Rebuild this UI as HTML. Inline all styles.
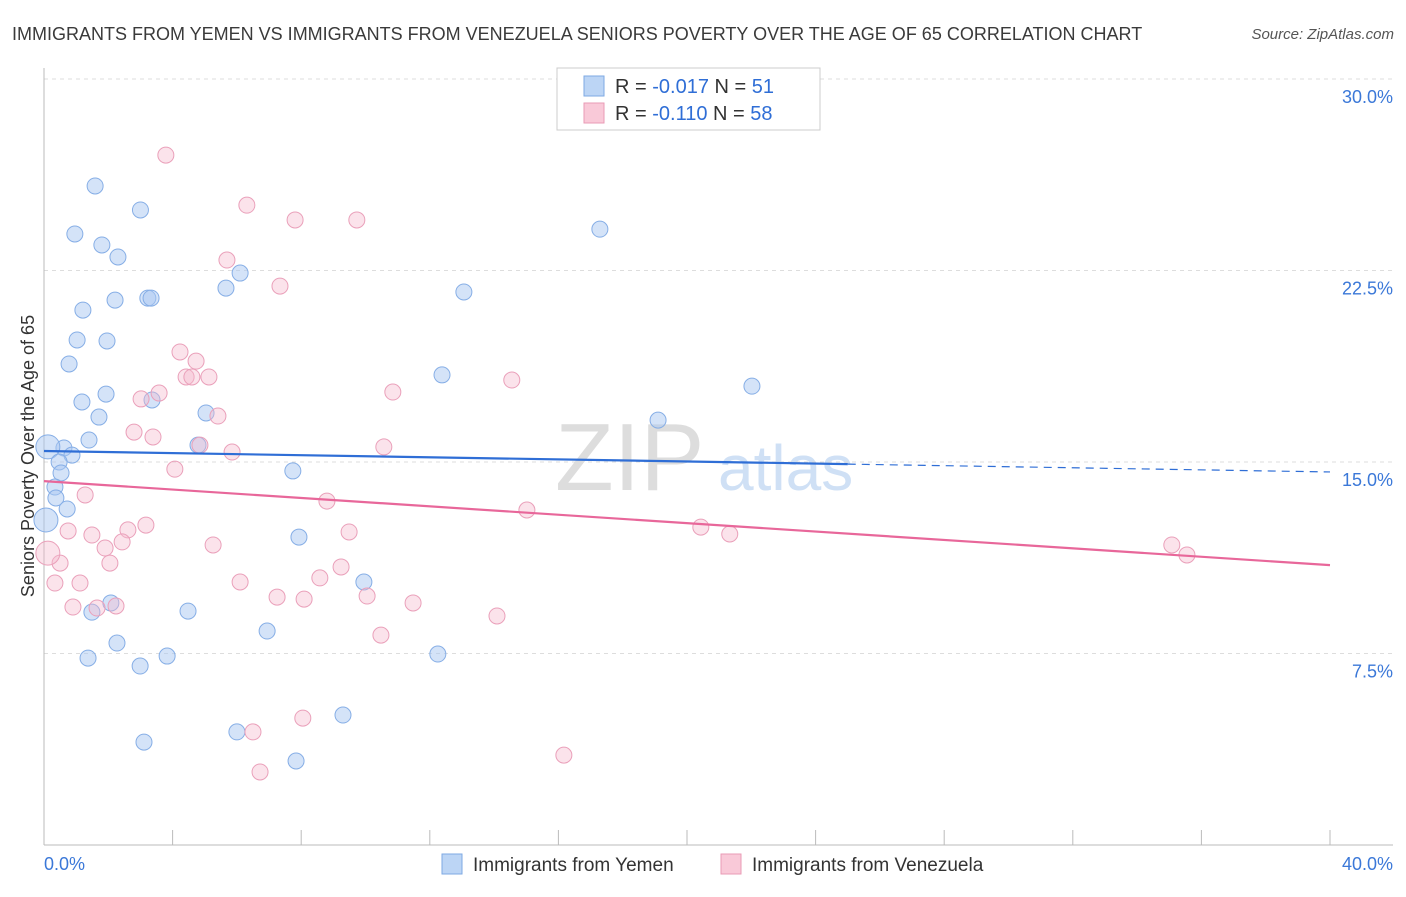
<!DOCTYPE html>
<html><head><meta charset="utf-8"><style>
body{margin:0;background:#fff;font-family:"Liberation Sans",sans-serif;}
svg text{font-family:"Liberation Sans",sans-serif;}
</style></head><body>
<svg id="chart" width="1406" height="892" xmlns="http://www.w3.org/2000/svg">
<text x="12" y="40" font-size="18" fill="#3a3a3a">IMMIGRANTS FROM YEMEN VS IMMIGRANTS FROM VENEZUELA SENIORS POVERTY OVER THE AGE OF 65 CORRELATION CHART</text>
<text x="1394" y="39" font-size="15" fill="#555" font-style="italic" text-anchor="end">Source: ZipAtlas.com</text>
<text x="555" y="490" font-size="96" fill="#ddd" font-family="Liberation Serif">ZIP</text>
<text x="718" y="490" font-size="64" fill="#cfe0f5">atlas</text>
<text transform="translate(34,456) rotate(-90)" font-size="18" fill="#333" text-anchor="middle">Seniors Poverty Over the Age of 65</text>
<g id="grid"></g><g id="axes"></g><g id="pts"></g><g id="trends"></g>
<g>
<rect x="557" y="68" width="263" height="62" fill="#fff" stroke="#ccc"/>
<rect x="584" y="76" width="20" height="20" fill="#bcd5f5" stroke="#7ea9e3"/>
<rect x="584" y="103" width="20" height="20" fill="#f9c9d8" stroke="#e99bb6"/>
<text x="615" y="93" font-size="20" fill="#333">R = <tspan fill="#2f6ed6">-0.017</tspan>   N =  <tspan fill="#2f6ed6">51</tspan></text>
<text x="615" y="120" font-size="20" fill="#333">R =  <tspan fill="#2f6ed6">-0.110</tspan>   N = <tspan fill="#2f6ed6">58</tspan></text>
</g>
<g>
<rect x="442" y="854" width="20" height="20" fill="#bcd5f5" stroke="#7ea9e3"/>
<text x="473" y="871" font-size="19" fill="#333">Immigrants from Yemen</text>
<rect x="721" y="854" width="20" height="20" fill="#f9c9d8" stroke="#e99bb6"/>
<text x="752" y="871" font-size="19" fill="#333">Immigrants from Venezuela</text>
</g>
</svg>
<script>
const yemenX=[1.59,3.0,0.96,1.80,2.30,2.21,3.23,3.33,1.21,1.03,1.96,0.78,1.93,1.18,3.36,1.71,1.40,0.62,0.12,0.87,0.47,0.53,0.34,0.37,0.72,0.06,5.04,4.79,5.66,6.10,7.74,7.93,9.95,4.48,2.08,1.49,2.27,1.37,2.99,3.83,6.94,12.25,6.0,3.11,7.84,9.30,17.29,13.06,12.38,19.10,22.02];
const yemenY=[25.81,24.87,23.93,23.50,23.03,21.34,21.42,21.42,20.95,19.78,19.74,18.84,17.66,17.35,17.43,16.76,15.86,15.55,15.59,15.27,15.0,14.57,14.02,13.59,13.16,12.73,16.92,15.66,21.81,22.40,14.65,12.06,10.30,9.16,9.48,9.12,7.91,7.32,7.01,7.40,8.38,7.48,4.43,4.03,3.29,5.09,24.12,21.66,18.41,16.64,17.97];
const venX=[3.79,6.31,7.81,9.73,5.69,7.34,4.23,4.73,4.42,4.60,5.13,10.85,14.55,3.58,3.02,5.41,2.80,3.39,4.85,5.85,10.57,4.07,1.28,8.80,15.02,0.75,1.49,2.61,3.17,9.49,20.43,21.33,2.43,1.90,5.26,2.05,0.50,0.12,1.12,0.34,6.10,8.58,9.24,7.25,8.09,10.05,11.48,0.90,1.65,2.24,14.09,10.48,6.50,8.05,6.72,16.17,35.08,35.55];
const venY=[27.02,25.06,24.48,24.48,22.91,21.89,19.31,18.95,18.33,18.33,18.33,17.74,18.21,17.70,17.47,16.80,16.17,15.98,15.66,15.39,15.59,14.72,13.71,13.47,13.12,12.30,12.14,12.34,12.53,12.26,12.45,12.18,11.87,11.63,11.75,11.04,11.04,11.43,10.26,10.26,10.30,10.46,10.89,9.71,9.63,9.75,9.48,9.32,9.28,9.36,8.97,8.22,4.43,4.97,2.86,3.52,11.75,11.36];
const yTicks=[7.5,15.0,22.5,30.0];
const xTickLabels=["0.0%","40.0%"];
const yemenTrend=[15.43,14.61];
const venTrend=[14.25,10.96];
const NS="http://www.w3.org/2000/svg";
const X0=44,X1=1330,Y0=845,PPY=191.5/7.5;
function sx(v){return X0+(v/40)*(X1-X0);}
function sy(v){return Y0-v*PPY;}
function mk(tag,attrs,parent){const e=document.createElementNS(NS,tag);for(const k in attrs)e.setAttribute(k,attrs[k]);document.getElementById(parent).appendChild(e);return e;}
yTicks.forEach(t=>{
 const l=mk('line',{x1:X0,x2:1393,y1:sy(t),y2:sy(t),stroke:'#ddd','stroke-dasharray':'4,4'},'grid');
 
 
 const tx=mk('text',{x:1393,y:sy(t)+24,'font-size':18,fill:'#3b78d8','text-anchor':'end'},'grid');
 tx.textContent=t.toFixed(1)+'%';
 
 
});
const ax=mk('line',{x1:X0,x2:1393,y1:Y0,y2:Y0,stroke:'#bbb'},'axes');


const ay=mk('line',{x1:X0,x2:X0,y1:68,y2:Y0,stroke:'#bbb'},'axes');


for(let i=0;i<=10;i++){
 const t=mk('line',{x1:sx(i*4),x2:sx(i*4),y1:Y0-15,y2:Y0,stroke:'#bbb'},'axes');
 
 
}
[[0,'start',X0],[1,'end',1393]].forEach(([i,a,x])=>{
 const tx=mk('text',{x:x,y:870,'font-size':18,fill:'#3b78d8','text-anchor':a},'axes');
 tx.textContent=xTickLabels[i];
 
 
});
function drawPts(xs,ys,fill,stroke,name){
 xs.forEach((v,i)=>{
  const big=(v<0.2)?12:8;
  const c=mk('circle',{cx:sx(v),cy:sy(ys[i]),r:big,fill:fill,stroke:stroke,'stroke-width':1},'pts');
  
  
 });
}
drawPts(yemenX,yemenY,'rgba(170,200,242,0.5)','#86aee6','yemen-point');
drawPts(venX,venY,'rgba(246,185,205,0.4)','#eaa0ba','venezuela-point');
function lerp(a,t){return a[0]+(a[1]-a[0])*t/40;}
const b1=mk('line',{x1:sx(0),y1:sy(lerp(yemenTrend,0)),x2:sx(25),y2:sy(lerp(yemenTrend,25)),stroke:'#2f6ed6','stroke-width':2.2},'trends');


const b2=mk('line',{x1:sx(25),y1:sy(lerp(yemenTrend,25)),x2:sx(40),y2:sy(lerp(yemenTrend,40)),stroke:'#2f6ed6','stroke-width':1.2,'stroke-dasharray':'8,6'},'trends');


const p1=mk('line',{x1:sx(0),y1:sy(venTrend[0]),x2:sx(40),y2:sy(venTrend[1]),stroke:'#e8679a','stroke-width':2.2},'trends');


</script>
</body></html>
